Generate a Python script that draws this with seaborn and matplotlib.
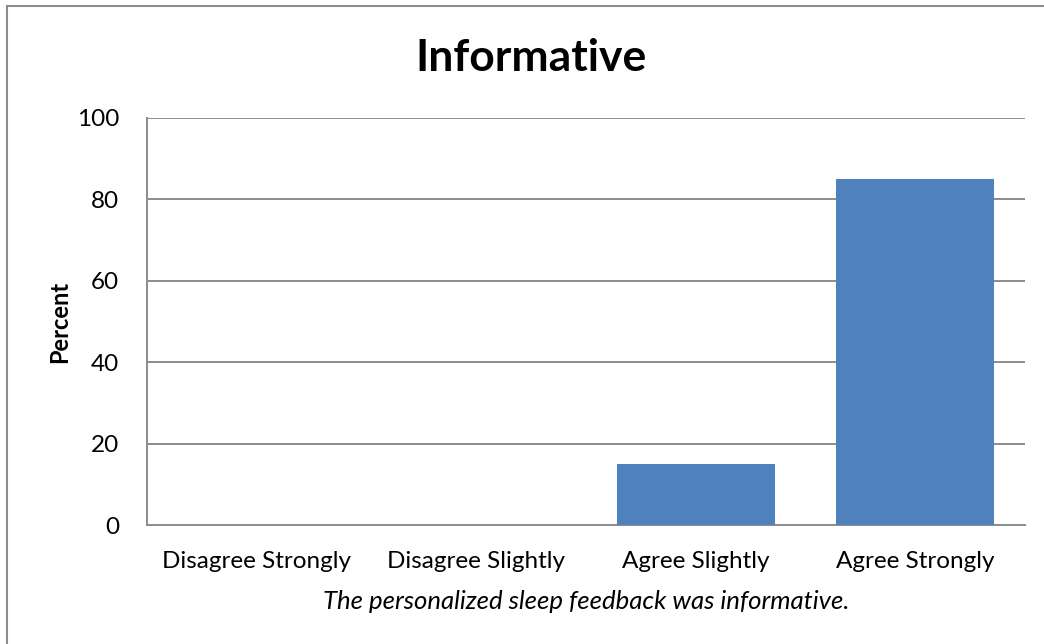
import numpy as np
import pandas as pd
import seaborn as sns
import matplotlib.pyplot as plt
from matplotlib.patches import Rectangle

categories = ["Disagree Strongly", "Disagree Slightly", "Agree Slightly", "Agree Strongly"]
percent = [0, 0, 15, 85]
yticks = [0, 20, 40, 60, 80, 100]

sns.set_style("white")
plt.rcParams['font.family'] = ['Lato', 'DejaVu Sans']
plt.rcParams['text.color'] = 'black'
plt.rcParams['axes.labelcolor'] = 'black'

df = pd.DataFrame({"response": categories, "percent": percent})

W, H = 1044, 644
fig = plt.figure(figsize=(W / 100, H / 100), dpi=100)
ax = fig.add_axes([147 / W, (H - 525) / H, (1025 - 147) / W, (525 - 118) / H])

sns.barplot(data=df, x="response", y="percent", color="#4F81BD", saturation=1,
            width=0.72, linewidth=0, ax=ax, zorder=3)

grid_col = "#8c8c8c"
ax.set_ylim(0, 100)
ax.set_yticks(yticks)
ax.yaxis.grid(True, color=grid_col, linewidth=1.4, zorder=0)
ax.set_axisbelow(True)
for side in ["top", "right"]:
    ax.spines[side].set_visible(False)
for side in ["left", "bottom"]:
    ax.spines[side].set_color(grid_col)
    ax.spines[side].set_linewidth(1.4)
ax.tick_params(axis="both", length=0, labelsize=17.5, colors="black")
ax.tick_params(axis="x", pad=19)
ax.tick_params(axis="y", pad=20)

ax.set_xlabel("The personalized sleep feedback was informative.", fontsize=18.5,
              style="italic", labelpad=13)
ax.set_ylabel("Percent", fontsize=17, fontweight="bold", labelpad=4)
fig.text(531 / W, 1 - 58 / H, "Informative", fontsize=32, fontweight="bold",
         ha="center", va="center", color="black")

# chart frame (only left/top edges visible in the crop)
fig.patches.append(Rectangle((7 / W, -0.1), 1.2, 1.1 - 6 / H, transform=fig.transFigure,
                             fill=False, edgecolor="#8c8c8c", linewidth=1.5))

fig.savefig("out.png", dpi=100)
